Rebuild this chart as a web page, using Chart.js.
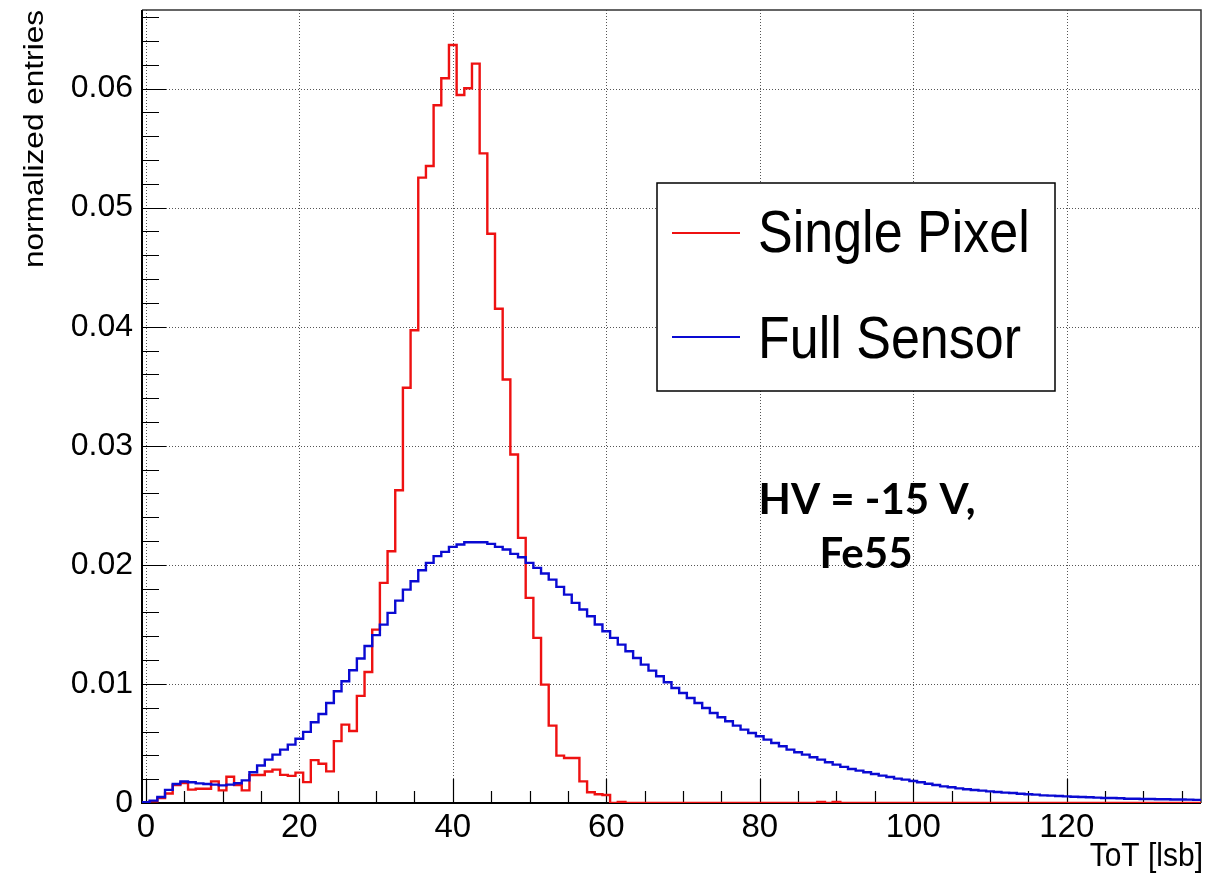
<!DOCTYPE html>
<html>
<head>
<meta charset="utf-8">
<title>ToT distribution</title>
<script src="https://cdn.jsdelivr.net/npm/chart.js@4.4.1/dist/chart.umd.min.js"></script>
<style>
  html, body { margin: 0; padding: 0; background: #fff; }
  canvas { display: block; }
</style>
</head>
<body>
<canvas id="tot-chart" width="1227" height="874"></canvas>
<script>
// normalized entries per 1 lsb ToT bin, bins 0..137
const singlePixel = [
  0, 0.00014, 0.00042, 0.0008, 0.0015, 0.00168, 0.00112, 0.0012, 0.0012, 0.00182,
  0.00106, 0.0022, 0.0015, 0.00106, 0.00234, 0.00235, 0.00265, 0.0028, 0.00236, 0.00228,
  0.00255, 0.00175, 0.0036, 0.0033, 0.00266, 0.0052, 0.00658, 0.00605, 0.009, 0.011,
  0.01456, 0.01849, 0.02114, 0.02627, 0.03487, 0.0397, 0.05252, 0.0535, 0.0586, 0.06087,
  0.06366, 0.05946, 0.06003, 0.0621, 0.05456, 0.04781, 0.04151, 0.03557, 0.02927, 0.02227,
  0.01723, 0.01387, 0.00994, 0.0065, 0.00398, 0.00378, 0.00378, 0.00182, 0.0009, 0.00073,
  0.00067, 0, 0.00008, 0, 0, 0, 0, 0, 0, 0,
  0, 0, 0, 0, 0, 0, 0, 0, 0, 0,
  0, 0, 0, 0, 0, 0, 0, 0, 0.00008, 0,
  0.00008, 0, 0, 0, 0, 0, 0, 0, 0, 0,
  0, 0, 0, 0, 0, 0, 0, 0, 0, 0,
  0, 0, 0, 0, 0, 0, 0, 0, 0, 0,
  0, 0, 0, 0, 0, 0, 0, 0, 0, 0,
  0, 0, 0, 0, 0, 0, 0, 0
];

const fullSensor = [
  0.00006, 0.0002, 0.0005, 0.0011, 0.0016, 0.0018, 0.00174, 0.00165, 0.0016, 0.00154,
  0.00148, 0.00154, 0.00166, 0.0019, 0.00258, 0.00315, 0.00364, 0.00406, 0.00448, 0.0049,
  0.0054, 0.00597, 0.00678, 0.00748, 0.0084, 0.00938, 0.01022, 0.01115, 0.01213, 0.01318,
  0.0141, 0.01498, 0.01597, 0.017, 0.01792, 0.01862, 0.01955, 0.02017, 0.02073, 0.02109,
  0.02151, 0.02171, 0.0219, 0.0219, 0.0219, 0.02176, 0.02151, 0.02129, 0.02092, 0.02064,
  0.02017, 0.01975, 0.01927, 0.01876, 0.01815, 0.0175, 0.01681, 0.01625, 0.01569, 0.01499,
  0.01443, 0.01387, 0.0133, 0.01275, 0.01218, 0.01162, 0.01112, 0.01064, 0.01014, 0.00966,
  0.00924, 0.00882, 0.0084, 0.00798, 0.00756, 0.0072, 0.00686, 0.0065, 0.00616, 0.00588,
  0.0056, 0.00532, 0.00504, 0.00476, 0.00448, 0.00426, 0.00406, 0.00384, 0.00364, 0.00342,
  0.00322, 0.00303, 0.00286, 0.00272, 0.00258, 0.00244, 0.0023, 0.00218, 0.00205, 0.00196,
  0.00185, 0.00174, 0.00162, 0.00151, 0.0014, 0.00132, 0.00123, 0.00115, 0.00109, 0.00104,
  0.00098, 0.00092, 0.00087, 0.00084, 0.00078, 0.00073, 0.0007, 0.00064, 0.00062, 0.00059,
  0.00056, 0.00053, 0.0005, 0.00048, 0.00045, 0.00042, 0.00042, 0.0004, 0.00036, 0.00036,
  0.00034, 0.00034, 0.00031, 0.00031, 0.0003, 0.0003, 0.00028, 0.00026
];

// bin centres in lsb
const totBins = singlePixel.map((_, i) => i);

const xTickValues = [0, 20, 40, 60, 80, 100, 120];
const yTickValues = [0, 0.01, 0.02, 0.03, 0.04, 0.05, 0.06];
const seriesLabels = ['Single Pixel', 'Full Sensor'];
const noteLines = ['HV = -15 V,', 'Fe55'];
const xTitle = 'ToT [lsb]';
const yTitle = 'normalized entries';

const sansFont = '"Liberation Sans", Arial, Helvetica, sans-serif';

// histogram outline: one point per left bin edge, plus the closing right edge
function histPoints(values) {
  const pts = values.map((v, i) => ({ x: totBins[i] - 0.5, y: v }));
  pts.push({ x: totBins[totBins.length - 1] + 0.5, y: values[values.length - 1] });
  return pts;
}

// ROOT-like frame, dotted grid, inward ticks, legend box and text
const rootLook = {
  id: 'rootLook',
  beforeDatasetsDraw(chart) {
    const { ctx, chartArea: a, scales: { x, y } } = chart;
    ctx.save();

    ctx.strokeStyle = '#555';
    ctx.lineWidth = 1;
    ctx.setLineDash([1, 2]);
    ctx.beginPath();
    xTickValues.forEach(v => {
      const px = Math.round(x.getPixelForValue(v)) + 0.5;
      ctx.moveTo(px, a.top);
      ctx.lineTo(px, a.bottom);
    });
    yTickValues.forEach(v => {
      if (v === 0) return;
      const py = Math.round(y.getPixelForValue(v)) + 0.5;
      ctx.moveTo(a.left, py);
      ctx.lineTo(a.right, py);
    });
    ctx.stroke();
    ctx.setLineDash([]);

    ctx.strokeStyle = '#000';
    ctx.lineWidth = 1.2;
    ctx.beginPath();
    for (let v = 0; v <= x.max; v += 5) {
      const px = Math.round(x.getPixelForValue(v)) + 0.5;
      const len = v % 20 === 0 ? 24 : 12;
      ctx.moveTo(px, a.bottom);
      ctx.lineTo(px, a.bottom - len);
    }
    for (let i = 0; i * 0.002 <= y.max; i++) {
      const py = Math.round(y.getPixelForValue(i * 0.002)) + 0.5;
      const len = i % 5 === 0 ? 24 : 17;
      ctx.moveTo(a.left, py);
      ctx.lineTo(a.left + len, py);
    }
    ctx.stroke();

    ctx.strokeStyle = '#333';
    ctx.lineWidth = 1.5;
    ctx.beginPath();
    ctx.moveTo(a.left, a.top);
    ctx.lineTo(a.right, a.top);
    ctx.lineTo(a.right, a.bottom);
    ctx.stroke();

    ctx.strokeStyle = '#000';
    ctx.lineWidth = 2;
    ctx.beginPath();
    ctx.moveTo(a.left, a.top);
    ctx.lineTo(a.left, a.bottom);
    ctx.lineTo(a.right, a.bottom);
    ctx.stroke();
    ctx.restore();
  },
  afterDatasetsDraw(chart) {
    const { ctx } = chart;
    ctx.save();

    // legend
    ctx.fillStyle = '#fff';
    ctx.fillRect(657, 183, 398, 208);
    ctx.strokeStyle = '#000';
    ctx.lineWidth = 1.5;
    ctx.strokeRect(657, 183, 398, 208);
    const lineY = [233, 337];
    const textY = [236, 342];
    chart.data.datasets.forEach((ds, i) => {
      ctx.strokeStyle = ds.borderColor;
      ctx.lineWidth = 2;
      ctx.beginPath();
      ctx.moveTo(672, lineY[i]);
      ctx.lineTo(740, lineY[i]);
      ctx.stroke();
      ctx.save();
      ctx.translate(758, textY[i]);
      ctx.scale(1, 1.15);
      ctx.fillStyle = '#000';
      ctx.font = '52px ' + sansFont;
      ctx.textAlign = 'left';
      ctx.textBaseline = 'middle';
      ctx.fillText(ds.label, 0, 0);
      ctx.restore();
    });

    // run conditions note
    ctx.fillStyle = '#000';
    ctx.font = 'bold 42px Lato, "Open Sans", sans-serif';
    ctx.textAlign = 'center';
    ctx.textBaseline = 'alphabetic';
    ctx.fillText(noteLines[0], 867, 514);
    ctx.fillText(noteLines[1], 866, 568);
    ctx.restore();
  },
  afterDraw(chart) {
    const { ctx } = chart;
    ctx.save();
    ctx.fillStyle = '#000';

    ctx.save();
    ctx.translate(1203, 866);
    ctx.scale(1, 1.1);
    ctx.font = '30px ' + sansFont;
    ctx.textAlign = 'right';
    ctx.textBaseline = 'alphabetic';
    ctx.fillText(xTitle, 0, 0);
    ctx.restore();

    ctx.save();
    ctx.translate(36, 10);
    ctx.rotate(-Math.PI / 2);
    ctx.font = '27px ' + sansFont;
    const w = ctx.measureText(yTitle).width;
    ctx.scale(258 / w, 1);
    ctx.textAlign = 'right';
    ctx.textBaseline = 'middle';
    ctx.fillText(yTitle, 0, 0);
    ctx.restore();

    ctx.restore();
  }
};

const ctx = document.getElementById('tot-chart').getContext('2d');
new Chart(ctx, {
  type: 'line',
  data: {
    datasets: [
      {
        label: seriesLabels[0],
        data: histPoints(singlePixel),
        borderColor: '#ee1111',
        borderWidth: 2.4,
        stepped: 'before',
        pointRadius: 0,
        fill: false,
        order: 1
      },
      {
        label: seriesLabels[1],
        data: histPoints(fullSensor),
        borderColor: '#0a0ad2',
        borderWidth: 2.4,
        stepped: 'before',
        pointRadius: 0,
        fill: false,
        order: 0
      }
    ]
  },
  options: {
    responsive: false,
    animation: false,
    devicePixelRatio: 1,
    layout: { padding: { left: 0, top: 10, right: 26, bottom: 0 } },
    plugins: {
      legend: { display: false },
      tooltip: { enabled: false }
    },
    scales: {
      x: {
        type: 'linear',
        min: -0.5,
        max: 137.5,
        grid: { display: false, drawTicks: false },
        border: { display: false },
        afterFit: s => {
          s.height = 71;
          s.paddingLeft = 0;
          s.paddingRight = 0;
        },
        afterBuildTicks: s => { s.ticks = xTickValues.map(v => ({ value: v })); },
        ticks: {
          padding: 5,
          color: '#000',
          maxRotation: 0,
          autoSkip: false,
          font: { family: sansFont, size: 33 },
          callback: v => String(v)
        }
      },
      y: {
        type: 'linear',
        min: 0,
        max: 0.0666,
        grid: { display: false, drawTicks: false },
        border: { display: false },
        afterFit: s => {
          s.width = 142;
          s.paddingTop = 0;
          s.paddingBottom = 0;
        },
        afterBuildTicks: s => { s.ticks = yTickValues.map(v => ({ value: v })); },
        ticks: {
          padding: 9,
          color: '#000',
          font: { family: sansFont, size: 32 },
          callback: v => (v === 0 ? '0' : v.toFixed(2))
        }
      }
    }
  },
  plugins: [rootLook]
});
</script>
</body>
</html>
